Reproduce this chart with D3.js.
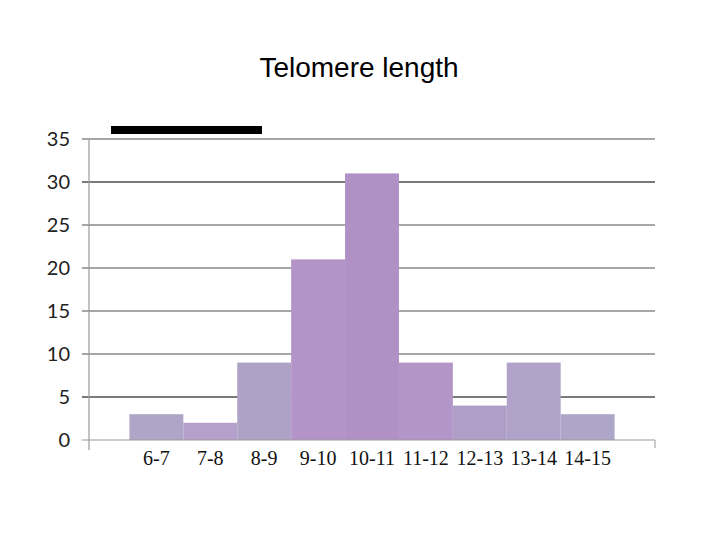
<!DOCTYPE html>
<html><head><meta charset="utf-8">
<script src="https://cdn.jsdelivr.net/npm/d3@7"></script>
<style>body{margin:0;background:#fff}</style>
</head><body>
<svg id="c" width="720" height="540"></svg>
<script>
const title = "Telomere length";
const binStarts = [6,7,8,9,10,11,12,13,14];
const categories = ["6-7","7-8","8-9","9-10","10-11","11-12","12-13","13-14","14-15"];
const counts = [3,2,9,21,31,9,4,9,3];
const barColors = ["#aea6c6","#b4a0ca","#aea2c6","#b494c8","#b190c6","#b495c8","#ae9ec8","#b0a2c8","#aea6c8"];
const yTicks = [0,5,10,15,20,25,30,35];
const thickTicks = [5,30];

const svg = d3.select("#c");
const x = d3.scaleLinear().domain([5.25,15.75]).range([89,655]);
const y = d3.scaleLinear().domain([0,35]).range([440,139]);

svg.append("text").attr("x",359).attr("y",77).attr("text-anchor","middle")
  .attr("font-family","Liberation Sans, Arial").attr("font-size",28).attr("fill","#000").text(title);

// black bar
svg.append("rect").attr("x",111).attr("y",126).attr("width",151).attr("height",8).attr("fill","#000");

// gridlines
svg.append("g").selectAll("line").data(yTicks.filter(d=>d>0)).join("line")
  .attr("x1",82).attr("x2",655).attr("y1",d=>y(d)).attr("y2",d=>y(d))
  .attr("stroke",d=>thickTicks.includes(d)?"#7a7a7a":"#888")
  .attr("stroke-width",d=>thickTicks.includes(d)?2.2:1.3);

// bars
svg.append("g").selectAll("rect").data(counts).join("rect")
  .attr("x",(d,i)=>x(binStarts[i]))
  .attr("width",(d,i)=>x(binStarts[i]+1)-x(binStarts[i]))
  .attr("y",d=>y(d)).attr("height",d=>y(0)-y(d))
  .attr("fill",(d,i)=>barColors[i]);

// y axis
const yAxis = d3.axisLeft(y).tickValues(yTicks).tickSize(0).tickPadding(19);
const ga = svg.append("g").attr("transform","translate(89,0)").call(yAxis);
ga.select(".domain").remove();
ga.selectAll("text").attr("font-family","Lato, Open Sans, sans-serif").attr("font-size",20).attr("fill","#222");
svg.append("line").attr("x1",89).attr("x2",89).attr("y1",139).attr("y2",450).attr("stroke","#999").attr("stroke-width",1.2);
svg.append("line").attr("x1",82).attr("x2",655).attr("y1",440).attr("y2",440).attr("stroke","#999").attr("stroke-width",1.2);
svg.append("line").attr("x1",655).attr("x2",655).attr("y1",440).attr("y2",448).attr("stroke","#999").attr("stroke-width",1);

// x labels
svg.append("g").selectAll("text").data(categories).join("text")
  .attr("x",(d,i)=>x(binStarts[i]+0.5)).attr("y",465).attr("text-anchor","middle")
  .attr("font-family","Liberation Serif, serif").attr("font-size",20).attr("fill","#111")
  .text(d=>d);
</script>
</body></html>
